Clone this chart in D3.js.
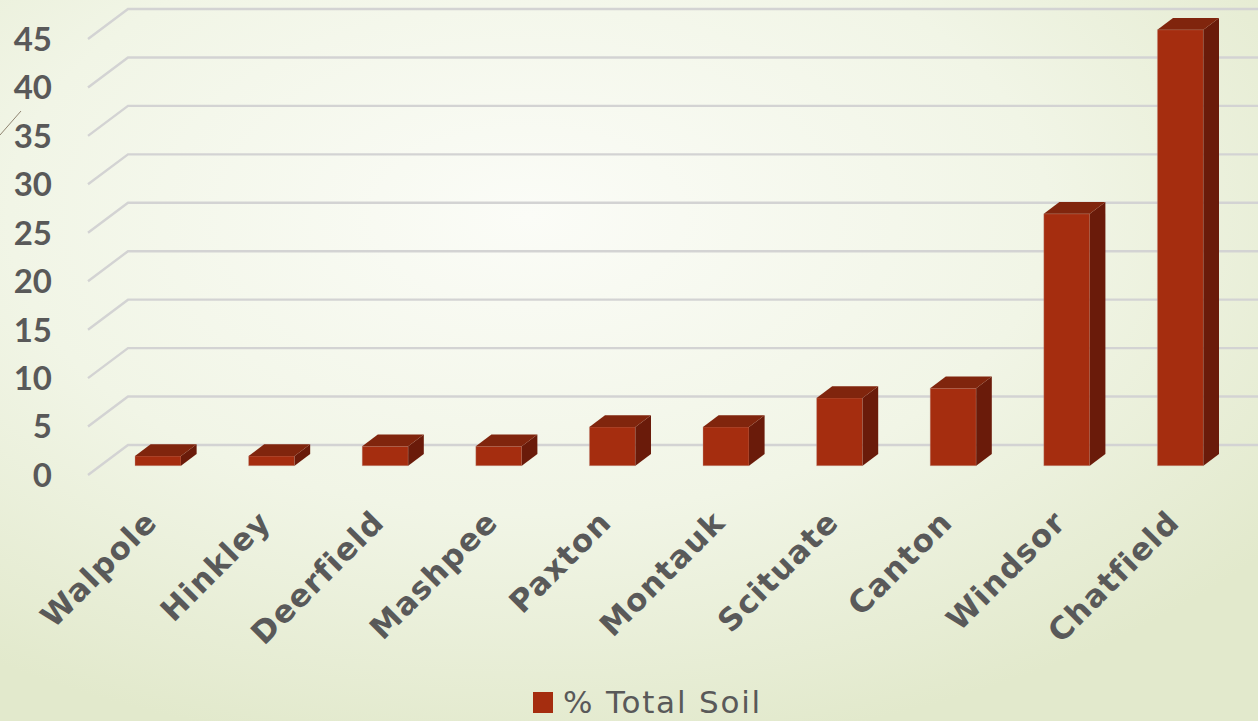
<!DOCTYPE html>
<html>
<head>
<meta charset="utf-8">
<script src="https://cdn.jsdelivr.net/npm/d3@7"></script>
<style>
  html, body { margin: 0; padding: 0; overflow: hidden; }
  svg { display: block; }
</style>
</head>
<body>
<svg id="chart" width="1258" height="721"></svg>
<script>
// ---- data ----
const categories = ["Walpole", "Hinkley", "Deerfield", "Mashpee", "Paxton", "Montauk", "Scituate", "Canton", "Windsor", "Chatfield"];
const values = [1, 1, 2, 2, 4, 4, 7, 8, 26, 45];
const yTicks = [0, 5, 10, 15, 20, 25, 30, 35, 40, 45];
const seriesName = "% Total Soil";

// ---- layout ----
const W = 1258, H = 721;
const svg = d3.select("#chart");

// background
const defs = svg.append("defs");
const bg = defs.append("radialGradient").attr("id", "bg")
  .attr("cx", "42%").attr("cy", "30%").attr("r", "75%");
bg.append("stop").attr("offset", "0%").attr("stop-color", "#fbfcf7");
bg.append("stop").attr("offset", "55%").attr("stop-color", "#f1f5e6");
bg.append("stop").attr("offset", "100%").attr("stop-color", "#e2e9cc");
svg.append("rect").attr("width", W).attr("height", H).attr("fill", "url(#bg)");

// decorative slide line
svg.append("line").attr("x1", 0).attr("y1", 135).attr("x2", 21).attr("y2", 111)
  .attr("stroke", "#8f8470").attr("stroke-width", 1);

// 3D projection: depth d in [0,1] -> offset (DX*d, DY*d)
const DX = 40, DY = -30;
const x = d3.scaleBand().domain(categories).range([88.8, 1224.8])
  .paddingInner(0.595).paddingOuter(0.2975);
const y = d3.scaleLinear().domain([0, 45]).range([475, 39]);
const barD0 = 0.31, barD1 = 0.70;

// gridlines
const grid = svg.append("g");
yTicks.forEach(t => {
  const yf = y(t);
  grid.append("path")
    .attr("d", `M${88},${yf}L${88 + DX},${yf + DY}L${W + 10},${yf + DY}`)
    .attr("fill", "none").attr("stroke", "#d3d3d3").attr("stroke-width", 2.4);
});

// y tick labels
svg.append("g").selectAll("text").data(yTicks).join("text")
  .attr("x", 52).attr("y", d => y(d))
  .attr("dy", "0.36em")
  .attr("text-anchor", "end")
  .attr("font-family", "Lato, 'DejaVu Sans', sans-serif")
  .attr("font-weight", "bold")
  .attr("font-size", 33)
  .attr("fill", "#595959")
  .text(d => d);

// bars
const colFront = "#a52d0f", colTop = "#80250d", colSide = "#6a1b0a";
const bars = svg.append("g");
categories.forEach((c, i) => {
  const v = values[i];
  const x0 = x(c), x1 = x(c) + x.bandwidth();
  const ox0 = DX * barD0, oy0 = DY * barD0;
  const ox1 = DX * barD1, oy1 = DY * barD1;
  const yb = y(0), yt = y(v);
  const g = bars.append("g");
  // front
  g.append("path").attr("d",
    `M${x0 + ox0},${yb + oy0}L${x1 + ox0},${yb + oy0}L${x1 + ox0},${yt + oy0}L${x0 + ox0},${yt + oy0}Z`)
    .attr("fill", colFront).attr("stroke", "#c9a59a").attr("stroke-width", 0.6).attr("stroke-opacity", 0.6);
  // side
  g.append("path").attr("d",
    `M${x1 + ox0},${yb + oy0}L${x1 + ox1},${yb + oy1}L${x1 + ox1},${yt + oy1}L${x1 + ox0},${yt + oy0}Z`)
    .attr("fill", colSide);
  // top
  g.append("path").attr("d",
    `M${x0 + ox0},${yt + oy0}L${x1 + ox0},${yt + oy0}L${x1 + ox1},${yt + oy1}L${x0 + ox1},${yt + oy1}Z`)
    .attr("fill", colTop);
});

// category labels
svg.append("g").selectAll("text").data(categories).join("text")
  .attr("transform", d => `translate(${x(d) + x.bandwidth() / 2 + DX * barD0 + 1},${524}) rotate(-45)`)
  .attr("text-anchor", "end")
  .attr("font-family", "'DejaVu Sans', sans-serif")
  .attr("font-weight", "bold")
  .attr("font-size", 31)
  .attr("letter-spacing", 1.3)
  .attr("fill", "#595959")
  .text(d => d);

// legend
const lg = svg.append("g");
lg.append("rect").attr("x", 533).attr("y", 692).attr("width", 20).attr("height", 21).attr("fill", colFront);
lg.append("text").attr("x", 563).attr("y", 713)
  .attr("font-family", "'DejaVu Sans', sans-serif")
  .attr("font-size", 31)
  .attr("letter-spacing", 1.8)
  .attr("fill", "#595959")
  .text(seriesName);
</script>
</body>
</html>
